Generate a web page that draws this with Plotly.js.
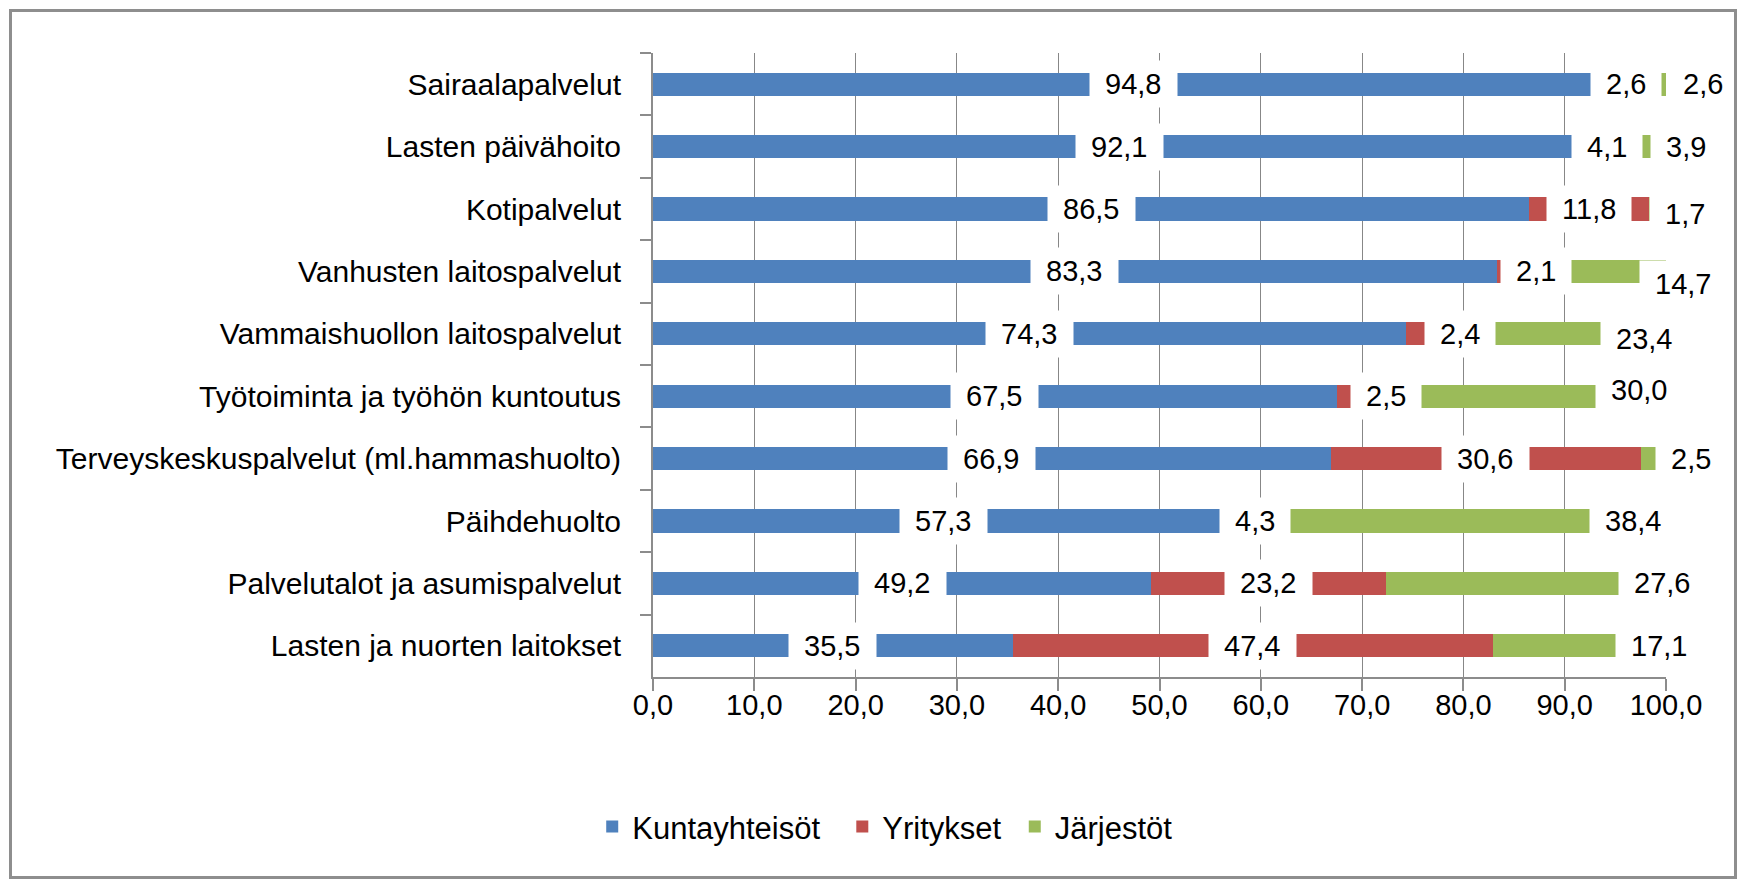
<!DOCTYPE html>
<html>
<head>
<meta charset="utf-8">
<script src="https://cdn.plot.ly/plotly-3.0.1.min.js"></script>
<style>
  body { margin: 0; background: #fff; }
  #graph { width: 1737px; height: 879px; }
  #frame { position: absolute; left: 9px; top: 9px; width: 1722px; height: 864px;
           border: 3px solid #8e8e8e; pointer-events: none; }
</style>
</head>
<body>
<div id="graph"></div>
<div id="frame"></div>
<script>
var categories = [
  "Sairaalapalvelut",
  "Lasten päivähoito",
  "Kotipalvelut",
  "Vanhusten laitospalvelut",
  "Vammaishuollon laitospalvelut",
  "Työtoiminta ja työhön kuntoutus",
  "Terveyskeskuspalvelut (ml.hammashuolto)",
  "Päihdehuolto",
  "Palvelutalot ja asumispalvelut",
  "Lasten ja nuorten laitokset"
];
var kuntayhteisot = [94.8, 92.1, 86.5, 83.3, 74.3, 67.5, 66.9, 57.3, 49.2, 35.5];
var yritykset     = [2.6, 4.1, 11.8, 2.1, 2.4, 2.5, 30.6, 4.3, 23.2, 47.4];
var jarjestot     = [2.6, 3.9, 1.7, 14.7, 23.4, 30.0, 2.5, 38.4, 27.6, 17.1];
var seriesNames = ["Kuntayhteisöt", "Yritykset", "Järjestöt"];
var xTicks = [0, 10, 20, 30, 40, 50, 60, 70, 80, 90, 100];

// label nudges in pixels (labels moved by hand in the original)
var nudgeX = [
  [0, 0, 0, 0, 0, 0, 0, 0, 0, 0],
  [0, 0, 0, 29, 42, 37, 0, 0, 0, 0],
  [50, 39, 28, 91, 96, 125, 38, 162, 136, 80]
];
var nudgeY = [
  [0, 0, 0, 0, 0, 0, 0, 0, 0, 0],
  [0, 0, 0, 0, 0, 0, 0, 0, 0, 0],
  [0, 0, 5, 13, 5, -6, 0, 0, 0, 0]
];
// extra space after each legend entry
var legendPad = ['\u00a0\u00a0', '\u00a0', ''];

var colors = ['#4F81BD', '#C0504D', '#9BBB59'];
var FONT = 'Liberation Sans, Arial, sans-serif';

function fmt(v) {
    return '\u00a0' + v.toFixed(1).replace('.', ',') + '\u00a0';
}

function DrawChart() {
    var all = [kuntayhteisot, yritykset, jarjestot];
    var data = [];
    var annotations = [];
    var start = categories.map(function () { return 0; });
    for (var s = 0; s < all.length; s++) {
        data.push({
            type: 'bar',
            orientation: 'h',
            y: categories,
            x: all[s],
            name: seriesNames[s] + legendPad[s],
            marker: {color: colors[s], line: {width: 0}},
            hoverinfo: 'x+y+name'
        });
        for (var i = 0; i < categories.length; i++) {
            var v = all[s][i];
            annotations.push({
                x: start[i] + v / 2,
                y: categories[i],
                xref: 'x', yref: 'y',
                text: fmt(v),
                showarrow: false,
                bgcolor: '#ffffff',
                borderpad: 7,
                xshift: nudgeX[s][i],
                yshift: -nudgeY[s][i],
                font: {family: FONT, size: 29, color: '#000000'}
            });
            start[i] += v;
        }
    }

    var layout = {
        width: 1737,
        height: 879,
        margin: {l: 653, r: 71, t: 53, b: 202},
        paper_bgcolor: '#ffffff',
        plot_bgcolor: '#ffffff',
        barmode: 'stack',
        bargap: 0.63,
        separators: ', ',
        font: {family: FONT, size: 29, color: '#000000'},
        showlegend: true,
        legend: {
            orientation: 'h',
            x: -0.06, xanchor: 'left',
            y: -0.24, yanchor: 'middle',
            font: {family: FONT, size: 31, color: '#000000'},
            traceorder: 'normal'
        },
        xaxis: {
            range: [0, 100],
            tickvals: xTicks,
            tickformat: '.1f',
            showgrid: true,
            gridcolor: '#878787',
            gridwidth: 1,
            zeroline: false,
            showline: true,
            linecolor: '#8c8c8c',
            linewidth: 2,
            ticks: 'outside',
            ticklen: 12,
            tickcolor: '#8c8c8c',
            tickwidth: 2,
            ticklabelstandoff: -11,
            tickfont: {family: FONT, size: 29, color: '#000000'}
        },
        yaxis: {
            autorange: 'reversed',
            type: 'category',
            showgrid: false,
            zeroline: false,
            showline: true,
            linecolor: '#8c8c8c',
            linewidth: 2,
            ticks: 'outside',
            tickson: 'boundaries',
            ticklen: 11,
            tickcolor: '#8c8c8c',
            tickwidth: 2,
            ticklabelstandoff: 24,
            tickfont: {family: FONT, size: 30, color: '#000000'}
        },
        annotations: annotations
    };

    Plotly.newPlot('graph', data, layout, {displayModeBar: false, staticPlot: true});
}

DrawChart()
</script>
</body>
</html>
